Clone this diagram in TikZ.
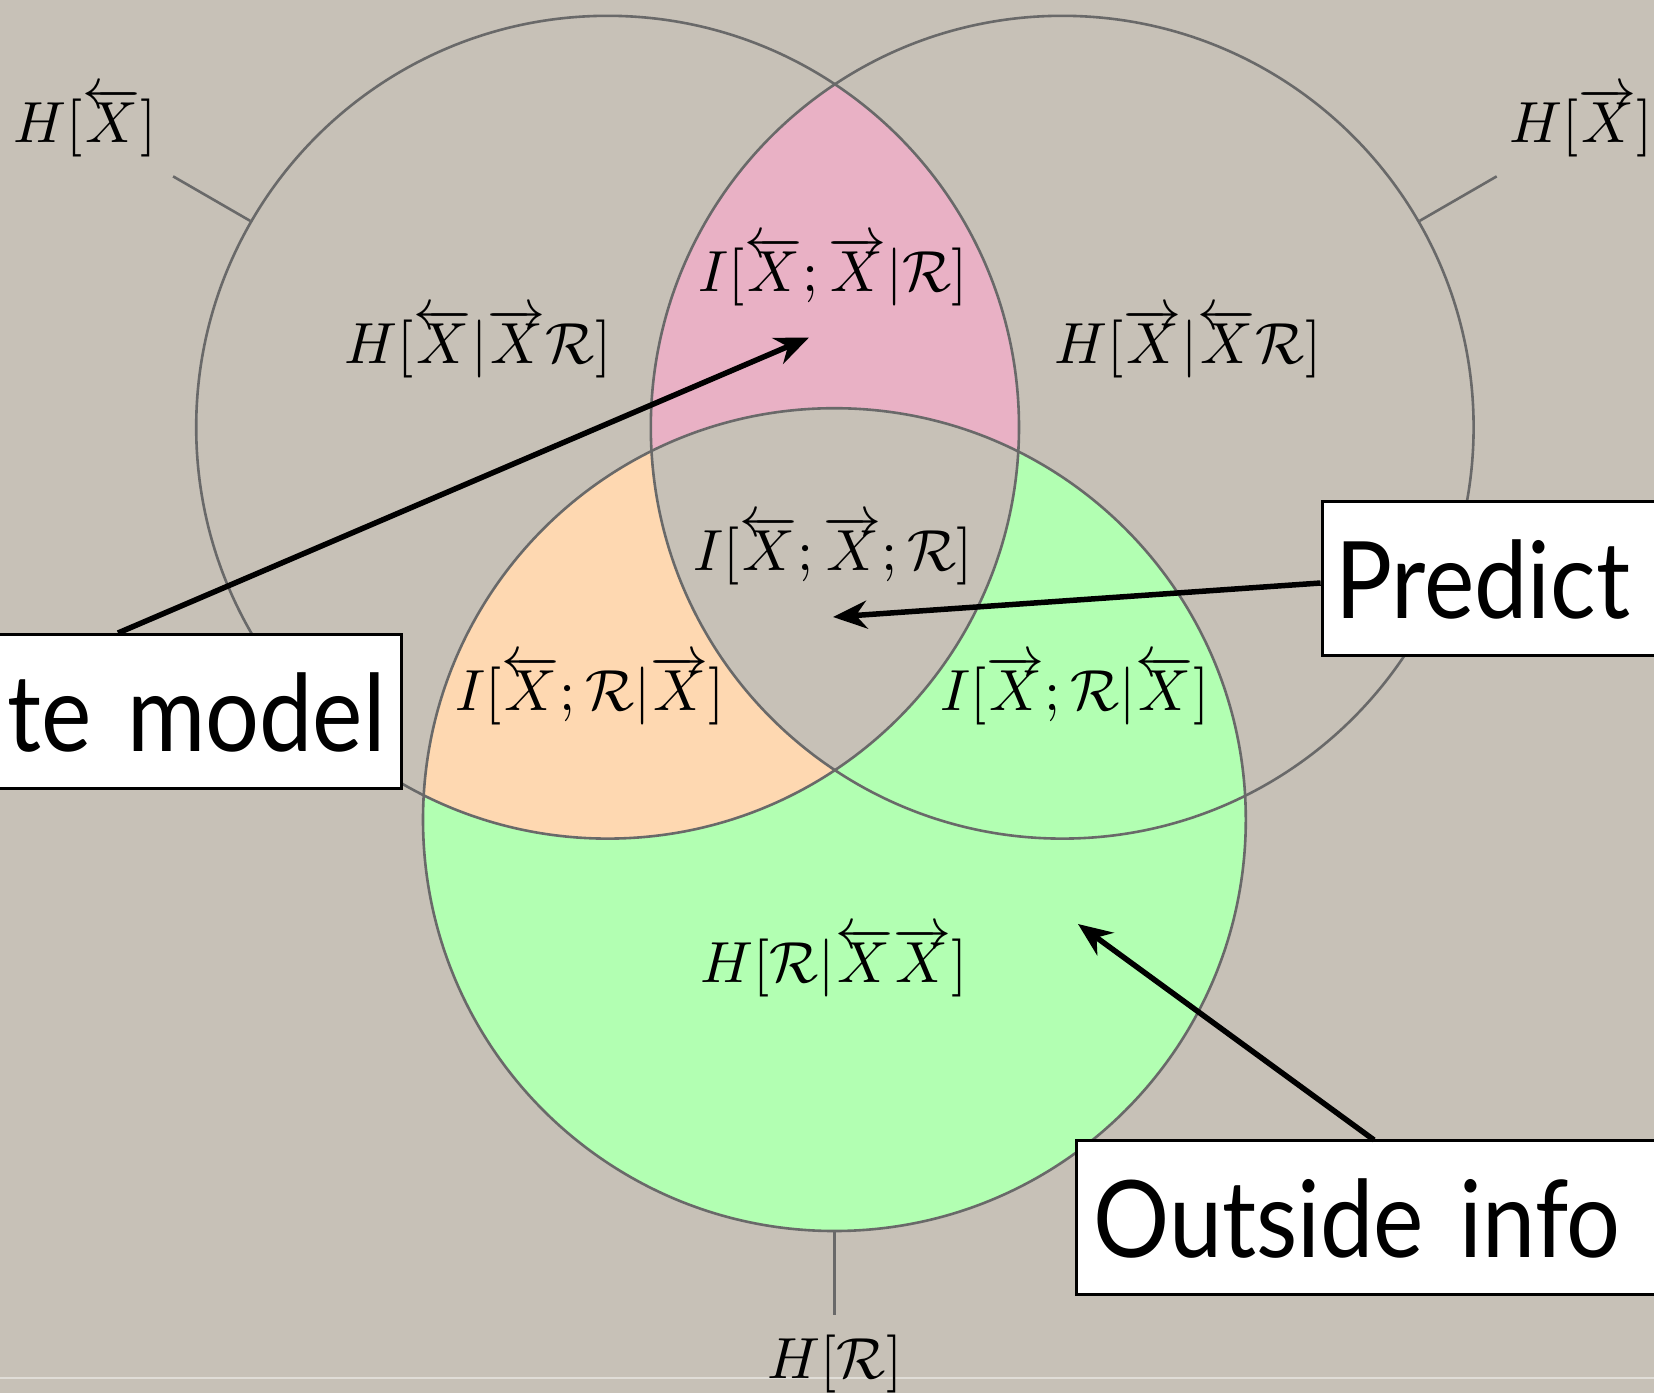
\documentclass[tikz,border=0pt]{standalone}
\usepackage{fontspec}
\usepackage{graphicx}
\newfontfamily\boxfont[FakeStretch=0.89,WordSpace=0.7]{Lato}
\usetikzlibrary{arrows.meta}
\definecolor{bg}{HTML}{C7C1B7}
\definecolor{ring}{HTML}{696969}
\definecolor{pinkreg}{HTML}{E9B1C5}
\definecolor{orangereg}{HTML}{FED8B1}
\definecolor{greenreg}{HTML}{B2FFB2}
\newcommand{\mth}[1]{\scalebox{5.8}{$#1$}}
\begin{document}
\begin{tikzpicture}[x=1pt,y=-1pt,
  ringline/.style={circle, draw=ring, line width=2.6pt, minimum size=822.8pt, inner sep=0pt},
  lead/.style={draw=ring, line width=2.6pt},
  lbl/.style={inner sep=0pt, anchor=base},
  callout/.style={draw=black, line width=3pt, fill=white,
    font=\boxfont\fontsize{107}{120}\selectfont, minimum height=154pt,
    text height=80pt, text depth=0pt, inner ysep=0pt},
  arr/.style={line width=5.5pt, -{Stealth[length=34pt,width=28pt]}}
]
\useasboundingbox (0,0) rectangle (1654,1393);
\clip (0,0) rectangle (1654,1393);
\fill[bg] (0,0) rectangle (1654,1393);
\draw[bg!55!white, line width=2pt] (0,1378) -- (1654,1378);

% centres
\coordinate (cL) at (607.6,427.2);
\coordinate (cR) at (1062.2,427.2);
\coordinate (cB) at (834.4,819.6);

% fills
\fill[greenreg] (cB) circle[radius=411.4pt];
\begin{scope}
  \clip (cL) circle[radius=411.4pt];
  \fill[pinkreg] (cR) circle[radius=411.4pt];
  \fill[orangereg] (cB) circle[radius=411.4pt];
  \clip (cR) circle[radius=411.4pt];
  \fill[bg] (cB) circle[radius=411.4pt];
\end{scope}

% outlines
\node[ringline] (L) at (cL) {};
\node[ringline] (R) at (cR) {};
\node[ringline] (B) at (cB) {};

% leaders
\draw[lead] (L.150) -- ++(150:89pt) coordinate (lL);
\draw[lead] (R.30) -- ++(30:89pt) coordinate (lR);
\draw[lead] (B.270) -- ++(270:83pt) coordinate (lB);

% labels
\node[lbl] (hxl) at (85,142) {\mth{H[\overleftarrow{X}]}};
\node[lbl] (hxr) at (1581,142) {\mth{H[\overrightarrow{X}]}};
\node[lbl] (ipink) at (833,291) {\mth{I[\overleftarrow{X};\overrightarrow{X}|\mathcal{R}]}};
\node[lbl] (hleft) at (478,363) {\mth{H[\overleftarrow{X}|\overrightarrow{X}\mathcal{R}]}};
\node[lbl] (hright) at (1188,363) {\mth{H[\overrightarrow{X}|\overleftarrow{X}\mathcal{R}]}};
\node[lbl] (icenter) at (833,570) {\mth{I[\overleftarrow{X};\overrightarrow{X};\mathcal{R}]}};
\node[lbl] (iorange) at (590,710) {\mth{I[\overleftarrow{X};\mathcal{R}|\overrightarrow{X}]}};
\node[lbl] (igreen) at (1075,710) {\mth{I[\overrightarrow{X};\mathcal{R}|\overleftarrow{X}]}};
\node[lbl] (hbottom) at (834,982) {\mth{H[\mathcal{R}|\overleftarrow{X}\overrightarrow{X}]}};
\node[lbl] (hr) at (835,1378) {\mth{H[\mathcal{R}]}};

% callout boxes
\node[callout, anchor=north east, inner xsep=16pt, text width=560pt, align=right] (model) at (403,633) {te model};
\node[callout, anchor=north west, inner xsep=13pt, text width=500pt, align=left] (predict) at (1320.6,500) {Predict};
\node[callout, anchor=north west, inner xsep=17pt, text width=650pt, align=left] (outside) at (1075,1139) {Outside info};

% arrows
\coordinate (s1) at (118,633);
\coordinate (t1) at (809,337.5);
\coordinate (s2) at (1320.6,583);
\coordinate (t2) at (833,617);
\coordinate (s3) at (1374,1140);
\coordinate (t3) at (1078,924);
\draw[arr] (s1) -- (t1);
\draw[arr] (s2) -- (t2);
\draw[arr] (s3) -- (t3);
\end{tikzpicture}
\end{document}
